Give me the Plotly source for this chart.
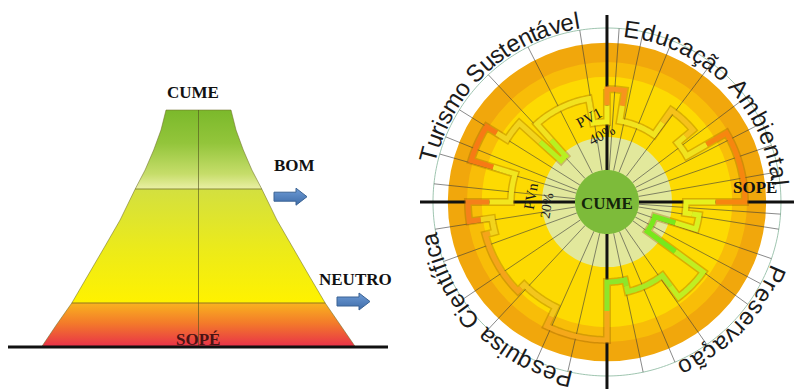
import numpy as np
import plotly.graph_objects as go

W, H = 794, 392

# ---------------- left panel: the mountain ----------------
level_names = ["CUME", "BOM", "NEUTRO", "SOPÉ"]
level_label_xy = [(193, 92.5), (294.5, 165), (355, 279), (197.5, 339)]
level_label_color = ["#111111", "#111111", "#111111", "#4a1414"]

mount_y = [110, 130, 150, 170, 189, 220, 247, 275, 303, 325, 347]          # heights (top -> base)
mount_half = [32.5, 37.5, 44.8, 53.4, 63.3, 78.4, 94, 110.2, 126.7, 142.2, 157]  # half widths
mount_cx = 198.5
divider_y = [189, 303]                            # BOM / NEUTRO boundaries
ground_x = [8, 388]
ground_y = 347
arrow_tail = [(274, 196.7), (337, 301.5)]         # arrows next to BOM and NEUTRO
arrow_len, arrow_shaft, arrow_head, arrow_head_len = 33, 4.5, 8.5, 11

mount_scale = [
    [0.00, "#7BB92B"], [0.14, "#93C53B"], [0.27, "#C6DD6A"], [0.330, "#E9EFA2"],
    [0.336, "#D3E03F"], [0.60, "#EDEB18"], [0.810, "#FFF200"],
    [0.816, "#F9B21F"], [0.90, "#F37A2A"], [1.00, "#E8304A"],
]

# ---------------- right panel: radial profile ----------------
px_per_unit = 1.74
center_px = (607, 202)
outer_r = 100.0
axis_reach = 107.5
cume_r = 18.4
ring_r = [91.5, 80.5, 72.0, 37.4]
ring_color = ["#F1A70C", "#F8BD08", "#FDDA02", "#E2E89C"]

seg_start = [0, 9, 35, 50, 60, 90, 98, 107, 126, 143, 167, 180,
             206, 225, 255, 262, 270, 287, 302, 312, 318, 350]
seg_r = [64.9, 47.1, 64.4, 52.9, 79.3, 45.4, 53.4, 28.7, 68.4, 52.9, 46.0,
         79.3, 67.2, 72.4, 66.7, 79.9, 55.2, 81.6, 67.8, 35.6, 60.3, 46.0]
seg_color = ["#F7941D", "#F2E41E", "#F6C21A", "#F1E31E", "#F7860F",
             "#E6F01E", "#D8F222", "#78E81C", "#C0EE22", "#A8EA26", "#8EE62A",
             "#F5A81A", "#F3C61C", "#F5A41A", "#F2D41C", "#F5801A",
             "#F2E61E", "#F77A14", "#F2D41E", "#B8F020", "#F2E21E", "#F2EC1E"]

spoke_theta = [4, 12, 22, 37, 53, 63, 71, 80, 94, 99, 109, 118, 126, 145, 157,
               168, 193, 204, 223, 236, 250, 261, 276, 286, 292, 302, 317, 333, 351]

themes = ["Educação Ambiental", "Preservação", "Pesquisa Científica", "Turismo Sustentável"]
theme_mid = [45.0, 133.5, 225.7, 317.0]
theme_spacing = [1.04, 1.05, 1.02, 0.96]
theme_baseline_px = [166, 175, 173, 176]
theme_font = 24

# Arial advance widths (1/1000 em)
adv = {"E": 667, "d": 556, "u": 556, "c": 500, "a": 556, "ç": 500, "ã": 556, "o": 556,
       " ": 278, "A": 667, "m": 833, "b": 556, "i": 222, "e": 556, "n": 556, "t": 278,
       "l": 222, "P": 667, "r": 333, "s": 500, "v": 500, "C": 722, "f": 278, "q": 556,
       "T": 611, "S": 667, "á": 556, "í": 278}

fig = go.Figure()

# ---- mountain body ----
left_x = [mount_cx - h for h in mount_half]
right_x = [mount_cx + h for h in mount_half]
poly_x = left_x + right_x[::-1] + [left_x[0]]
poly_y = mount_y + mount_y[::-1] + [mount_y[0]]
fig.add_trace(go.Scatter(
    x=poly_x, y=poly_y, mode="lines", fill="toself",
    fillgradient=dict(type="vertical", colorscale=mount_scale,
                      start=mount_y[0], stop=mount_y[-1]),
    line=dict(color="rgba(110,110,40,0.55)", width=1),
    hoverinfo="skip", showlegend=False, xaxis="x", yaxis="y"))

# divider lines and central line
for yv in divider_y:
    hw = float(np.interp(yv, mount_y, mount_half))
    fig.add_trace(go.Scatter(x=[mount_cx - hw, mount_cx + hw], y=[yv, yv], mode="lines",
                             line=dict(color="rgba(80,80,30,0.6)", width=1),
                             hoverinfo="skip", showlegend=False))
fig.add_trace(go.Scatter(x=[mount_cx, mount_cx], y=[mount_y[0], mount_y[-1]], mode="lines",
                         line=dict(color="rgba(80,80,30,0.6)", width=1),
                         hoverinfo="skip", showlegend=False))
# ground
fig.add_trace(go.Scatter(x=ground_x, y=[ground_y, ground_y], mode="lines",
                         line=dict(color="#111111", width=3),
                         hoverinfo="skip", showlegend=False))

# arrows
for (ax0, ay0) in arrow_tail:
    xb = ax0 + arrow_len - arrow_head_len
    xs = [ax0, xb, xb, ax0 + arrow_len, xb, xb, ax0, ax0]
    ys = [ay0 - arrow_shaft, ay0 - arrow_shaft, ay0 - arrow_head, ay0,
          ay0 + arrow_head, ay0 + arrow_shaft, ay0 + arrow_shaft, ay0 - arrow_shaft]
    fig.add_trace(go.Scatter(x=xs, y=ys, mode="lines", fill="toself",
                             fillgradient=dict(type="vertical",
                                               colorscale=[[0, "#6E9BD6"], [1, "#3E6CA8"]],
                                               start=ay0 - arrow_head, stop=ay0 + arrow_head),
                             line=dict(color="#3A6394", width=1),
                             hoverinfo="skip", showlegend=False))

for name, (lx, ly), col in zip(level_names, level_label_xy, level_label_color):
    fig.add_annotation(x=lx, y=ly, xref="x", yref="y", text=f"<b>{name}</b>",
                       showarrow=False, font=dict(family="Liberation Serif", size=17, color=col))

# ---- radial chart ----
fig.add_trace(go.Barpolar(
    r=ring_r, theta=[0] * len(ring_r), width=[360] * len(ring_r), base=0,
    marker=dict(color=ring_color, line=dict(width=0)),
    hoverinfo="skip", showlegend=False, subplot="polar"))

circ = np.arange(0, 361, 1.0)
fig.add_trace(go.Scatterpolar(r=[outer_r] * len(circ), theta=circ, mode="lines",
                              line=dict(color="#9FC5B0", width=1),
                              hoverinfo="skip", showlegend=False, subplot="polar"))

sp_r, sp_t = [], []
for a in spoke_theta:
    sp_r += [cume_r, outer_r, None]
    sp_t += [a, a, None]
fig.add_trace(go.Scatterpolar(r=sp_r, theta=sp_t, mode="lines",
                              line=dict(color="rgba(60,60,60,0.6)", width=1),
                              hoverinfo="skip", showlegend=False, subplot="polar"))

# black cross
for a in (0, 90):
    fig.add_trace(go.Scatterpolar(r=[axis_reach, axis_reach], theta=[a, a + 180], mode="lines",
                                  line=dict(color="#111111", width=3),
                                  hoverinfo="skip", showlegend=False, subplot="polar"))

# step outline: arc of each sector plus half of the radial step on each side
seg_end = seg_start[1:] + [360]
n = len(seg_start)
paths = []
for i in range(n):
    prev_r = seg_r[i - 1]
    next_r = seg_r[(i + 1) % n]
    t = [seg_start[i]]
    r = [(prev_r + seg_r[i]) / 2]
    arc_t = list(np.linspace(seg_start[i], seg_end[i], max(2, int(seg_end[i] - seg_start[i]) + 1)))
    t += arc_t
    r += [seg_r[i]] * len(arc_t)
    t.append(seg_end[i])
    r.append((seg_r[i] + next_r) / 2)
    paths.append((r, t))

all_r, all_t = [], []
for i in range(n):
    arc_t = list(np.linspace(seg_start[i], seg_end[i], max(2, int(seg_end[i] - seg_start[i]) + 1)))
    all_t += arc_t
    all_r += [seg_r[i]] * len(arc_t)
all_t.append(360)
all_r.append(seg_r[0])
fig.add_trace(go.Scatterpolar(r=all_r, theta=all_t, mode="lines",
                              line=dict(color="rgba(150,95,0,0.35)", width=8),
                              hoverinfo="skip", showlegend=False, subplot="polar"))
for (r, t), col in zip(paths, seg_color):
    fig.add_trace(go.Scatterpolar(r=r, theta=t, mode="lines",
                                  line=dict(color=col, width=5),
                                  hoverinfo="skip", showlegend=False, subplot="polar"))

# central disc
fig.add_trace(go.Scatterpolar(r=[cume_r] * len(circ), theta=circ, mode="lines", fill="toself",
                              fillcolor="#7DBB3A", line=dict(width=0, color="#7DBB3A"),
                              hoverinfo="skip", showlegend=False, subplot="polar"))

cx, cy = center_px
rad_px = axis_reach * px_per_unit
cy_b = H - cy
polar_dom_x = [max(0, (cx - rad_px) / W), min(1, (cx + rad_px) / W)]
polar_dom_y = [max(0, (cy_b - rad_px) / H), min(1, (cy_b + rad_px) / H)]

# overlay axes in radial units for text placement
x2_dom = [0.5, 1.0]
x2_range = [(x2_dom[0] * W - cx) / px_per_unit, (x2_dom[1] * W - cx) / px_per_unit]
y2_range = [(0 - cy_b) / px_per_unit, (H - cy_b) / px_per_unit]


def pol2xy(r, theta_deg):
    th = np.deg2rad(theta_deg)
    return r * np.sin(th), r * np.cos(th)


for name, mid, spc, rb in zip(themes, theme_mid, theme_spacing, theme_baseline_px):
    widths = [adv[ch] * theme_font / 1000 * spc for ch in name]
    total = sum(widths)
    start = mid - np.rad2deg(total / rb) / 2
    acc = 0.0
    rc = (rb + 0.35 * theme_font) / px_per_unit
    for ch, w in zip(name, widths):
        ang = start + np.rad2deg((acc + w / 2) / rb)
        acc += w
        if ch == " ":
            continue
        x, y = pol2xy(rc, ang)
        ta = ang if ang <= 180 else ang - 360
        fig.add_annotation(x=x, y=y, xref="x2", yref="y2", text=ch, showarrow=False,
                           textangle=ta, xanchor="center", yanchor="middle", borderpad=0,
                           font=dict(family="Liberation Sans", size=theme_font, color="#1b1b1b"))

# center and inner labels (positions in radial units)
inner_labels = [
    ("<b>CUME</b>", 0.0, -0.6, 0, 17, "#14240a"),
    ("<b>SOPÉ</b>", 85.0, 8.6, 0, 17, "#111111"),
    ("PV1", -10.3, 48.0, -28, 15, "#1b1b1b"),
    ("40%", -3.1, 38.5, -28, 15, "#1b1b1b"),
    ("PVn", -43.5, 3.2, -80, 15, "#1b1b1b"),
    ("20%", -34.2, -1.7, -80, 14, "#1b1b1b"),
]
for txt, x, y, ang, fs, col in inner_labels:
    fig.add_annotation(x=x, y=y, xref="x2", yref="y2", text=txt, showarrow=False,
                       textangle=ang, font=dict(family="Liberation Serif", size=fs, color=col))

fig.update_layout(
    width=W, height=H, margin=dict(l=0, r=0, t=0, b=0),
    paper_bgcolor="white", plot_bgcolor="rgba(0,0,0,0)",
    xaxis=dict(domain=[0, 0.5], range=[0, W * 0.5], visible=False, fixedrange=True),
    yaxis=dict(domain=[0, 1], range=[H, 0], visible=False, fixedrange=True),
    xaxis2=dict(domain=x2_dom, range=x2_range, visible=False, anchor="y2"),
    yaxis2=dict(domain=[0, 1], range=y2_range, visible=False, anchor="x2"),
    polar=dict(domain=dict(x=polar_dom_x, y=polar_dom_y), bgcolor="rgba(0,0,0,0)",
               barmode="overlay",
               radialaxis=dict(range=[0, axis_reach], visible=False),
               angularaxis=dict(rotation=90, direction="clockwise", visible=False)),
    showlegend=False,
)

fig.write_html("out.html")
